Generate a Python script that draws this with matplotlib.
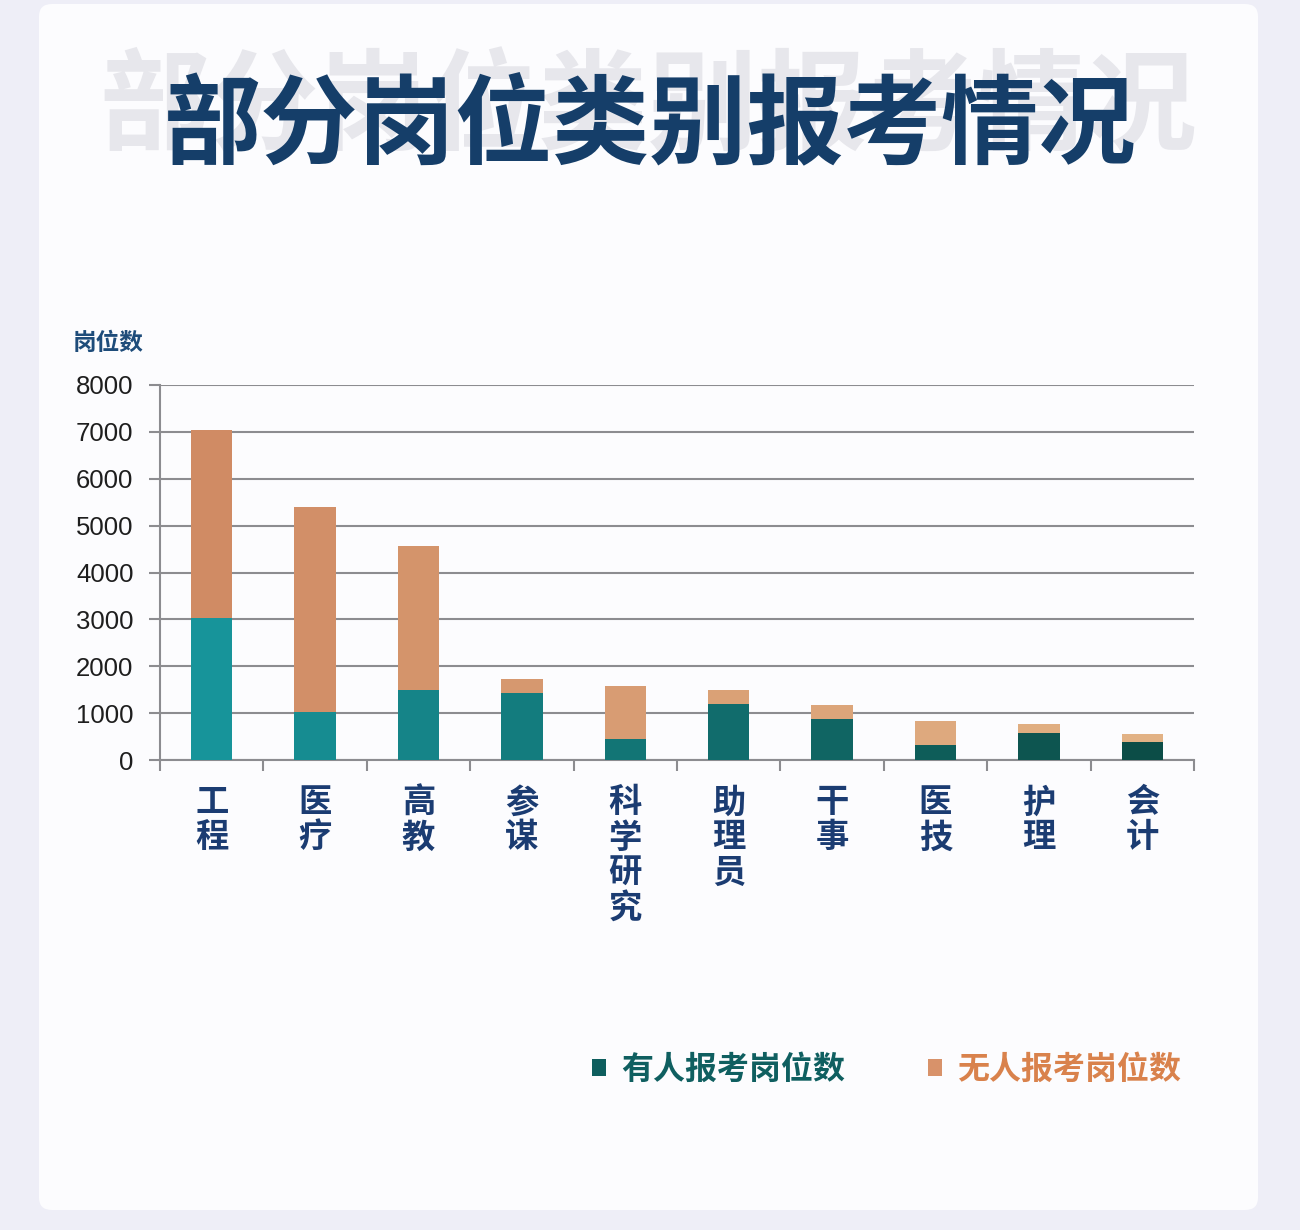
import matplotlib
matplotlib.use("Agg")
import matplotlib.pyplot as plt
from matplotlib.patches import FancyBboxPatch, Patch
from matplotlib.colors import LinearSegmentedColormap
import numpy as np

plt.rcParams['font.family'] = ['Noto Sans CJK SC', 'DejaVu Sans']

# ---- data ----
categories = ["工程", "医疗", "高教", "参谋", "科学研究", "助理员", "干事", "医技", "护理", "会计"]
applied = [3030, 1030, 1490, 1430, 450, 1190, 870, 310, 580, 390]      # 有人报考岗位数
total = [7050, 5400, 4560, 1730, 1580, 1490, 1180, 840, 760, 545]       # bar top (stacked)
not_applied = [t - a for t, a in zip(total, applied)]                    # 无人报考岗位数
yticks = [0, 1000, 2000, 3000, 4000, 5000, 6000, 7000, 8000]
series_names = ["有人报考岗位数", "无人报考岗位数"]
title = "部分岗位类别报考情况"
ylabel = "岗位数"

W, H = 1300, 1230
fig = plt.figure(figsize=(W / 100, H / 100), dpi=100)
fig.patch.set_facecolor("#EEEEF7")

# card
card = FancyBboxPatch((39 / W, 1 - 1210 / H), (1258 - 39) / W, (1210 - 4) / H,
                      boxstyle="round,pad=0,rounding_size=0.01",
                      transform=fig.transFigure, facecolor="#FCFCFE",
                      edgecolor="none", zorder=-5)
fig.patches.append(card)

# titles (faded shadow title behind the main title, as in the reference)
fig.text(648 / W, 1 - 110 / H, title, ha="center", va="center", fontsize=79,
         fontweight=900, color="#E7E7EC", zorder=-4)
fig.text(650 / W, 1 - 127 / H, title, ha="center", va="center", fontsize=70,
         fontweight=900, color="#153E69", zorder=-3)

# axes
ax = fig.add_axes([160 / W, 1 - 760 / H, (1194 - 160) / W, (760 - 385) / H])
ax.set_zorder(2)
ax.set_facecolor("none")
x = np.arange(len(categories))

teal_cmap = LinearSegmentedColormap.from_list("teal", ["#17949A", "#0C4D47"])
orange_cmap = LinearSegmentedColormap.from_list("orng", ["#D08B64", "#E2B285"])
fr = np.linspace(0, 1, len(categories))
teal_cols = [teal_cmap(f) for f in fr]
orange_cols = [orange_cmap(f) for f in fr]

ax.bar(x, applied, width=0.4, color=teal_cols, zorder=3)
ax.bar(x, not_applied, width=0.4, bottom=applied, color=orange_cols, zorder=3)

ax.set_xlim(-0.5, len(categories) - 0.5)
ax.set_ylim(0, 8000)
ax.set_yticks(yticks)
ax.set_yticklabels([str(v) for v in yticks], fontsize=18.5,
                   fontfamily="Liberation Sans", color="#1E1E1E")
ax.yaxis.grid(True, color="#8C8C90", linewidth=1.5, zorder=1)
ax.set_axisbelow(True)

ax.set_xticks(np.arange(-0.5, len(categories), 1.0))
ax.set_xticklabels([])
ax.set_xticks(x, minor=True)
ax.set_xticklabels(["\n".join(c) for c in categories], minor=True,
                   fontsize=24, fontweight="bold", color="#1B3C72",
                   linespacing=1.08)
ax.tick_params(axis="x", which="major", length=8, width=1.5, color="#8C8C90", direction="out")
ax.tick_params(axis="x", which="minor", length=0, pad=19)
ax.tick_params(axis="y", length=8, width=1.5, color="#8C8C90", pad=11)

for s in ["top", "right"]:
    ax.spines[s].set_visible(False)
for s in ["left", "bottom"]:
    ax.spines[s].set_color("#8C8C90")
    ax.spines[s].set_linewidth(1.5)

# y label
fig.text(108 / W, 1 - 343 / H, ylabel, ha="center", va="center", fontsize=17,
         fontweight="bold", color="#1E4C7A")

# legend
handles = [Patch(facecolor="#0E5E5E", edgecolor="none"),
           Patch(facecolor="#D8926A", edgecolor="none")]
leg = fig.legend(handles, series_names, loc="center left",
                 bbox_to_anchor=(592 / W, 1 - 1070 / H), ncol=2, frameon=False,
                 handlelength=0.45, handleheight=0.45,
                 handletextpad=0.45, columnspacing=2.6, borderpad=0,
                 borderaxespad=0, prop={"weight": "bold", "size": 23})
leg.get_texts()[0].set_color("#0F5F60")
leg.get_texts()[1].set_color("#D9824C")

fig.savefig("out.png", dpi=100, facecolor=fig.get_facecolor())
